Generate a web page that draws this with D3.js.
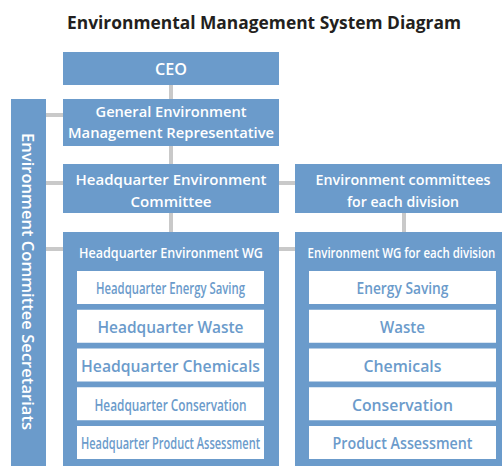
<!DOCTYPE html>
<html><head><meta charset="utf-8">
<script src="https://cdn.jsdelivr.net/npm/d3@7"></script>
<style>body{margin:0;background:#fff}svg{display:block}</style>
</head><body>
<script>
const title = "Environmental Management System Diagram";
const topBoxes = [["CEO"], ["General Environment", "Management Representative"]];
const committees = [["Headquarter Environment", "Committee"], ["Environment committees", "for each division"]];
const wgHeaders = ["Headquarter Environment WG", "Environment WG for each division"];
const hqItems = ["Headquarter Energy Saving", "Headquarter Waste", "Headquarter Chemicals", "Headquarter Conservation", "Headquarter Product Assessment"];
const divItems = ["Energy Saving", "Waste", "Chemicals", "Conservation", "Product Assessment"];
const sideLabel = "Environment Committee Secretariats";
// measured rendered text widths (px) to match the condensed original typesetting
const hqWidths = [149, 146, 179, 152, 179];
const divWidths = [92, 45, 78, 101, 140];

const W = 502, H = 466;
const BLUE = "#6b9bcb", GRAY = "#c9c9c9", FONT = "'Open Sans', sans-serif";
const svg = d3.select("body").append("svg").attr("width", W).attr("height", H);

const col = d3.scaleOrdinal().domain([0, 1]).range([63, 295]);
const colW = 216;
const rows = d3.scaleBand().domain(d3.range(hqItems.length)).range([271, 459]).paddingInner(5.75 / 38.75).paddingOuter(0);

function txt(x, y, s, opts) {
  const t = svg.append("text").attr("x", x).attr("y", y).text(s)
    .attr("text-anchor", "middle").attr("font-family", FONT)
    .attr("font-size", opts.size || 15).attr("font-weight", opts.weight || 600)
    .attr("fill", opts.fill || "#fff");
  if (opts.len) t.attr("textLength", opts.len).attr("lengthAdjust", "spacingAndGlyphs");
  return t;
}
// horizontally scaled text (used where the natural width would overflow)
function scaledTxt(x, y, s, size, width) {
  const g = svg.append("g").attr("transform", `translate(${x},${y})`);
  const t = g.append("text").attr("x", 0).attr("y", 0).text(s)
    .attr("text-anchor", "middle").attr("font-family", FONT)
    .attr("font-size", size).attr("font-weight", 600).attr("fill", "#fff");
  const nat = t.node().getComputedTextLength();
  t.attr("transform", `scale(${width / nat},1)`);
}

// connectors
const lines = [
  [171, 85, 171, 99], [171, 146, 171, 164], [171, 213, 171, 232],
  [404, 213, 404, 232],
  [46, 115, 63, 115], [46, 183, 63, 183], [46, 249, 63, 249],
  [279, 183, 295, 183], [279, 249, 295, 249]
];
svg.selectAll("line.c").data(lines).join("line").attr("class", "c")
  .attr("x1", d => d[0]).attr("y1", d => d[1]).attr("x2", d => d[2]).attr("y2", d => d[3])
  .attr("stroke", GRAY).attr("stroke-width", 4);

// title
txt(264, 29, title, {size: 18, weight: 700, fill: "#231f20", len: 394});

// side bar
svg.append("rect").attr("x", 11).attr("y", 99).attr("width", 35).attr("height", H - 99).attr("fill", BLUE);
svg.append("text").attr("transform", "translate(21.7,281.5) rotate(90)")
  .attr("text-anchor", "middle").attr("font-family", FONT).attr("font-size", 16).attr("font-weight", 600)
  .attr("fill", "#fff").attr("textLength", 297).attr("lengthAdjust", "spacingAndGlyphs").text(sideLabel);

// top boxes
svg.append("rect").attr("x", 63).attr("y", 52).attr("width", colW).attr("height", 33).attr("fill", BLUE);
txt(171, 75, topBoxes[0][0], {size: 16, len: 32});
svg.append("rect").attr("x", 63).attr("y", 99).attr("width", colW).attr("height", 47).attr("fill", BLUE);
txt(171, 116.7, topBoxes[1][0], {size: 15, len: 151});
txt(171, 137.7, topBoxes[1][1], {size: 15, len: 206});

// committees
const comLens = [[191, 81], [175, 112]];
committees.forEach((c, i) => {
  svg.append("rect").attr("x", col(i)).attr("y", 164).attr("width", colW + (i ? 1 : 0)).attr("height", 49).attr("fill", BLUE);
  const cx = col(i) + colW / 2;
  txt(cx, 185, c[0], {size: 15, len: comLens[i][0]});
  txt(cx, 206.7, c[1], {size: 15, len: comLens[i][1]});
});

// WG boxes
const hdrLens = [184, 188];
const lists = [[hqItems, hqWidths], [divItems, divWidths]];
wgHeaders.forEach((h, i) => {
  svg.append("rect").attr("x", col(i)).attr("y", 232).attr("width", colW + (i ? 1 : 0)).attr("height", H - 232).attr("fill", BLUE);
  const cx = col(i) + colW / 2 - (i ? 1.5 : 0);
  scaledTxt(cx, 257.7, h, 15, hdrLens[i]);
  const [items, widths] = lists[i];
  const g = svg.append("g");
  g.selectAll("rect").data(items).join("rect")
    .attr("x", col(i) + 14).attr("y", (d, k) => rows(k))
    .attr("width", 187).attr("height", rows.bandwidth()).attr("fill", "#fff");
  g.selectAll("text").data(items).join("text")
    .attr("x", col(i) + 14 + 93.5).attr("y", (d, k) => rows(k) + rows.bandwidth() / 2 + 6.8)
    .attr("text-anchor", "middle").attr("font-family", FONT).attr("font-size", 16).attr("font-weight", 600)
    .attr("fill", BLUE).attr("textLength", (d, k) => widths[k]).attr("lengthAdjust", "spacingAndGlyphs")
    .text(d => d);
});
</script>
</body></html>
